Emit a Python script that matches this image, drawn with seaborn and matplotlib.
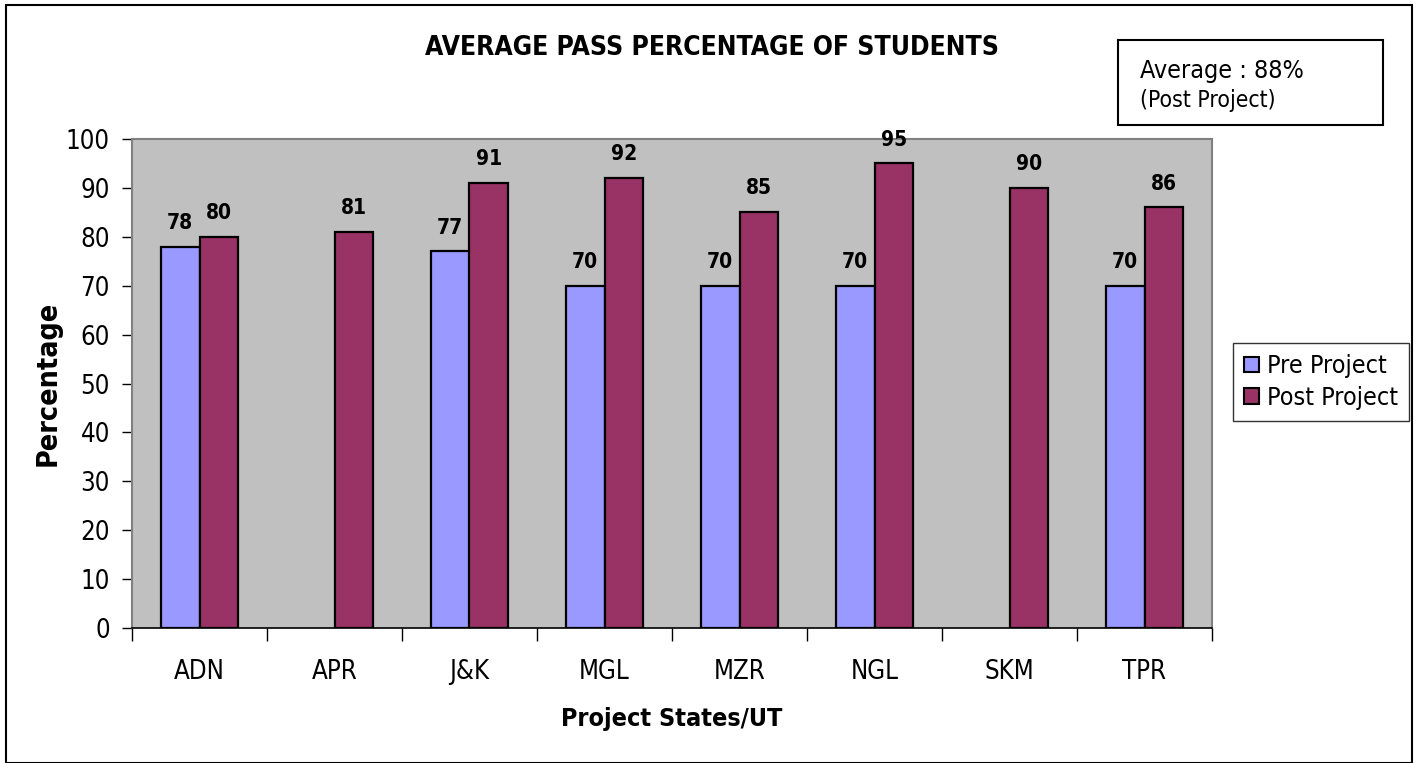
import matplotlib
matplotlib.use("Agg")
import matplotlib.pyplot as plt
from matplotlib.patches import Rectangle
import numpy as np
import pandas as pd
import seaborn as sns

# Data
states = ["ADN", "APR", "J&K", "MGL", "MZR", "NGL", "SKM", "TPR"]
pre_project = [78, np.nan, 77, 70, 70, 70, np.nan, 70]
post_project = [80, 81, 91, 92, 85, 95, 90, 86]
series_names = ["Pre Project", "Post Project"]
y_ticks = [0, 10, 20, 30, 40, 50, 60, 70, 80, 90, 100]
average_note = ("Average : 88%", "(Post Project)")

df = pd.DataFrame({
    "State": states * 2,
    "Series": [series_names[0]] * len(states) + [series_names[1]] * len(states),
    "Value": pre_project + post_project,
})

sns.set_theme(style="white")
plt.rcParams["font.family"] = ["DejaVu Sans"]
plt.rcParams["font.stretch"] = "condensed"
for key in ["text.color", "axes.labelcolor", "xtick.color", "ytick.color"]:
    plt.rcParams[key] = "black"

W, H = 1424, 763
fig = plt.figure(figsize=(W / 100, H / 100), dpi=100)
fig.patch.set_facecolor("white")

left, right, top, bottom = 132, 1212, 139, 628
ax = fig.add_axes([left / W, 1 - bottom / H, (right - left) / W, (bottom - top) / H])

palette = {"Pre Project": "#9999FF", "Post Project": "#993366"}
sns.barplot(data=df, x="State", y="Value", hue="Series", order=states,
            hue_order=series_names, palette=palette, width=0.572, gap=0,
            edgecolor="black", linewidth=1.6, saturation=1, ax=ax,
            errorbar=None, legend=True)

ax.set_facecolor("#C0C0C0")
ax.set_xlim(-0.5, len(states) - 0.5)
ax.set_ylim(0, 100)
ax.set_yticks(y_ticks)
ax.set_yticklabels([str(t) for t in y_ticks], fontsize=18.5)
ax.tick_params(axis="y", which="major", direction="out", length=7, width=1,
               color="black", pad=9, left=True)
ax.tick_params(axis="x", which="major", length=0, pad=22, labelsize=18.5)
ax.set_xticks(np.arange(-0.5, len(states), 1), minor=True)
ax.tick_params(axis="x", which="minor", direction="out", length=9, width=1,
               color="black", bottom=True)

for side in ["top", "right", "left"]:
    ax.spines[side].set_color("#808080")
    ax.spines[side].set_linewidth(1.5)
ax.spines["bottom"].set_color("black")
ax.spines["bottom"].set_linewidth(1.2)

ax.set_xlabel("Project States/UT", fontsize=18, fontweight="bold", labelpad=16)
ax.set_ylabel("Percentage", fontsize=20.5, fontweight="bold", labelpad=3)

for cont in ax.containers:
    ax.bar_label(cont, fmt="%d", padding=10, fontsize=15, fontweight="bold")

# Legend at the right of the plot area
handles, labels = ax.get_legend_handles_labels()
leg = ax.legend(handles, labels, loc="center left",
                bbox_to_anchor=(1233 / W, 1 - 382 / H), bbox_transform=fig.transFigure,
                frameon=True, fancybox=False, fontsize=18, handlelength=0.6,
                handleheight=0.6, handletextpad=0.3, borderpad=0.45,
                labelspacing=0.3, borderaxespad=0)
leg.get_frame().set_edgecolor("black")
leg.get_frame().set_linewidth(1.0)
for h in leg.legend_handles:
    h.set_edgecolor("black")
    h.set_linewidth(1.5)

# Title
fig.text(712 / W, 1 - 48 / H, "AVERAGE PASS PERCENTAGE OF STUDENTS",
         ha="center", va="center", fontsize=19, fontweight="bold")

# Average annotation box
fig.add_artist(Rectangle((1118 / W, 1 - 125 / H), (1383 - 1118) / W, 85 / H,
                         transform=fig.transFigure, facecolor="white",
                         edgecolor="black", linewidth=1.5))
fig.text(1140 / W, 1 - 71 / H, average_note[0], ha="left", va="center",
         fontsize=18)
fig.text(1140 / W, 1 - 100 / H, average_note[1], ha="left", va="center",
         fontsize=16.5)

# Outer chart border
fig.add_artist(Rectangle((6 / W, 0.5 / H), (1412 - 6) / W, (H - 5.5) / H,
                         transform=fig.transFigure, fill=False,
                         edgecolor="black", linewidth=1.5))

fig.savefig("out.png", dpi=100)
